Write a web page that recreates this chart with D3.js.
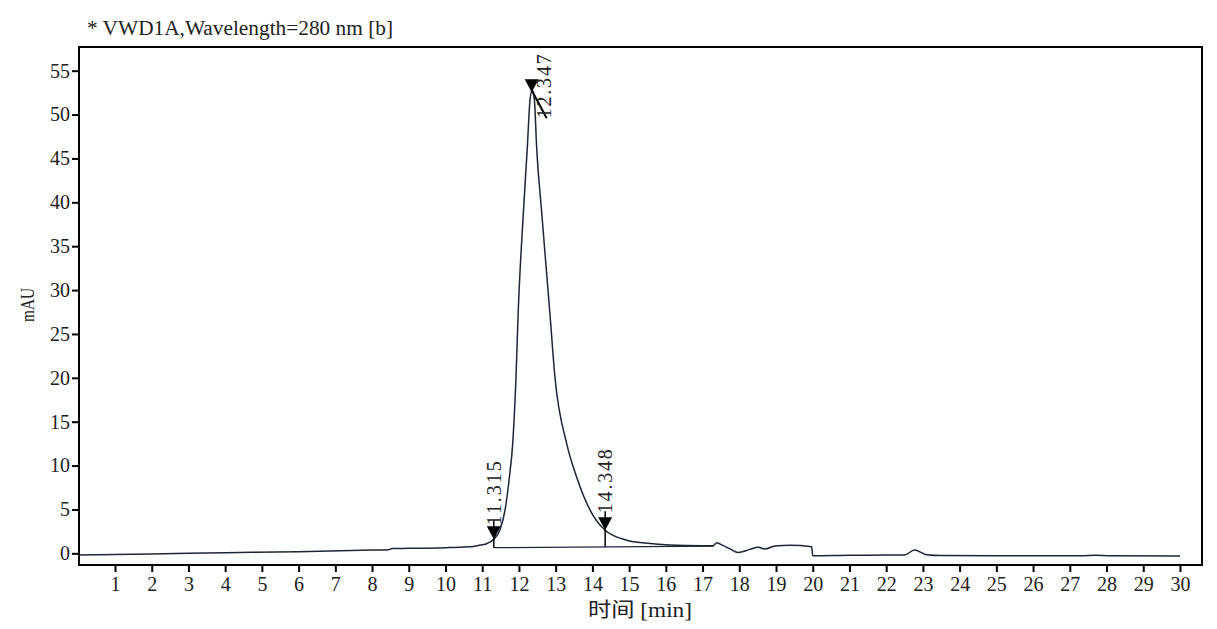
<!DOCTYPE html>
<html>
<head>
<meta charset="utf-8">
<script src="https://cdn.jsdelivr.net/npm/d3@7"></script>
<style>
  body { margin: 0; background: #ffffff; }
  svg { display: block; }
  text { font-family: "Liberation Serif", "Noto Sans CJK SC", serif; fill: #222; }
</style>
</head>
<body>
<div id="chart"></div>
<script>
// Cromatograma VWD1A, 280 nm
const timeMin = [0, 2, 4, 6, 8, 8.45, 8.55, 9, 10, 10.5, 10.8, 11.0, 11.12, 11.315, 11.48, 11.62, 11.74,
  11.83, 11.92, 11.98, 12.12, 12.23, 12.3, 12.36, 12.42, 12.48, 12.62, 12.84, 12.98, 13.3, 13.57, 13.94, 14.34,
  14.93, 15.5, 16.1, 17.0, 17.28, 17.39, 17.55, 17.75, 17.97, 18.29, 18.52, 18.7, 18.97, 19.38,
  19.97, 20.0, 21, 22.0, 22.5, 22.77, 23.1, 23.5, 25, 27.3, 27.7, 28.1, 30];
const signalMAU = [-0.19, -0.08, 0.07, 0.18, 0.38, 0.42, 0.55, 0.57, 0.64, 0.72, 0.82, 0.98, 1.1, 1.6, 2.65, 4.9, 8.7,
  12.5, 20.1, 27.5, 38.8, 46.4, 51.6, 52.8, 51.7, 46.4, 38.8, 27.5, 20.1, 12.5, 8.7, 4.9, 2.65,
  1.5, 1.15, 0.95, 0.86, 0.86, 1.21, 0.9, 0.5, 0.1, 0.45, 0.68, 0.49, 0.83, 0.91,
  0.75, -0.27, -0.22, -0.2, -0.18, 0.37, -0.15, -0.25, -0.28, -0.27, -0.22, -0.27, -0.3];

// Línea base de integración
const baseTimes = [11.315, 17.3];
const baseValues = [0.64, 0.82];

// Picos marcados
const peakTimes = [11.315, 12.347, 14.348];
const peakLabels = ["11.315", "12.347", "14.348"];

const xTicks = d3.range(1, 31);
const yTicks = d3.range(0, 60, 5);

const titleText = "* VWD1A,Wavelength=280 nm [b]";
const xTitle = "时间 [min]";
const yTitle = "mAU";

const W = 1217, H = 629;
const margin = { top: 47, right: 15, bottom: 64, left: 79 };
const width = W - margin.left - margin.right;
const height = H - margin.top - margin.bottom;
const lineColor = "#1b2636";

const svg = d3.select("#chart").append("svg")
    .attr("width", W)
    .attr("height", H);

const g = svg.append("g")
    .attr("transform", `translate(${margin.left}, ${margin.top})`);

const x = d3.scaleLinear().domain([0.02, 30.6]).range([0, width]);
const y = d3.scaleLinear().domain([-1.33, 57.7]).range([height, 0]);

// Interpolar la señal en un tiempo dado
function signalAt(t) {
    const i = d3.bisectLeft(timeMin, t);
    if (i <= 0) return signalMAU[0];
    const t0 = timeMin[i - 1], t1 = timeMin[i];
    const k = (t - t0) / (t1 - t0);
    return signalMAU[i - 1] + k * (signalMAU[i] - signalMAU[i - 1]);
}
function baseAt(t) {
    const k = (t - baseTimes[0]) / (baseTimes[1] - baseTimes[0]);
    return baseValues[0] + k * (baseValues[1] - baseValues[0]);
}

// Ejes
const yAxis = g.append("g")
    .call(d3.axisLeft(y).tickValues(yTicks).tickSize(7).tickPadding(2));
yAxis.select(".domain").remove();
yAxis.selectAll("line").attr("stroke", "#000").attr("stroke-width", 2);
yAxis.selectAll("text").attr("font-size", 20).attr("fill", "#222")
    .attr("font-family", "Liberation Serif");

const xAxis = g.append("g")
    .attr("transform", `translate(0, ${height})`)
    .call(d3.axisBottom(x).tickValues(xTicks).tickSize(7).tickPadding(5));
xAxis.select(".domain").remove();
xAxis.selectAll("line").attr("stroke", "#000").attr("stroke-width", 2);
xAxis.selectAll("text").attr("font-size", 20).attr("fill", "#222")
    .attr("font-family", "Liberation Serif");

// Marco
g.append("rect")
    .attr("x", 0).attr("y", 0)
    .attr("width", width).attr("height", height)
    .attr("fill", "none")
    .attr("stroke", "#000")
    .attr("stroke-width", 2);

// Señal
const series = timeMin.map((t, i) => ({ t: t, v: signalMAU[i] }));
g.append("path")
    .datum(series)
    .attr("fill", "none")
    .attr("stroke", lineColor)
    .attr("stroke-width", 1.5)
    .attr("d", d3.line().x(d => x(d.t)).y(d => y(d.v)).curve(d3.curveMonotoneX));

// Línea base
g.append("line")
    .attr("x1", x(baseTimes[0])).attr("y1", y(baseValues[0]))
    .attr("x2", x(baseTimes[1])).attr("y2", y(baseValues[1]))
    .attr("stroke", lineColor)
    .attr("stroke-width", 1.3);

// Marcadores de picos
const triW = 14, triH = 13;
peakTimes.forEach((t, i) => {
    const px = x(t);
    const py = y(signalAt(t));
    const isApex = i === 1;

    if (!isApex) {
        // línea vertical desde la base
        g.append("line")
            .attr("x1", px).attr("x2", px)
            .attr("y1", y(baseAt(t)))
            .attr("y2", py - triH - 6)
            .attr("stroke", "#000")
            .attr("stroke-width", 1.5);
    } else {
        g.append("line")
            .attr("x1", px).attr("y1", py - 2)
            .attr("x2", px + 15).attr("y2", py + 26)
            .attr("stroke", "#000")
            .attr("stroke-width", 2);
    }

    g.append("path")
        .attr("d", `M${px - triW / 2},${py - triH} L${px + triW / 2},${py - triH} L${px},${py} Z`)
        .attr("fill", "#000");

    const lx = isApex ? px + 12 : px;
    const ly = isApex ? py + 26 : py - triH - (i === 0 ? 1 : 4);
    g.append("text")
        .attr("transform", `translate(${lx}, ${ly}) rotate(-90)`)
        .attr("dy", "0.35em")
        .attr("font-size", 20)
        .attr("textLength", 64)
        .attr("lengthAdjust", "spacing")
        .text(peakLabels[i]);
});

// Títulos
svg.append("text")
    .attr("x", 87).attr("y", 35)
    .attr("font-size", 20)
    .attr("textLength", 306)
    .attr("lengthAdjust", "spacingAndGlyphs")
    .text(titleText);

svg.append("text")
    .attr("x", 640).attr("y", 617)
    .attr("text-anchor", "middle")
    .attr("font-size", 20)
    .attr("textLength", 104)
    .attr("lengthAdjust", "spacingAndGlyphs")
    .text(xTitle);

svg.append("text")
    .attr("transform", "translate(34, 305) rotate(-90)")
    .attr("text-anchor", "middle")
    .attr("font-size", 18)
    .attr("textLength", 34)
    .attr("lengthAdjust", "spacingAndGlyphs")
    .text(yTitle);
</script>
</body>
</html>
